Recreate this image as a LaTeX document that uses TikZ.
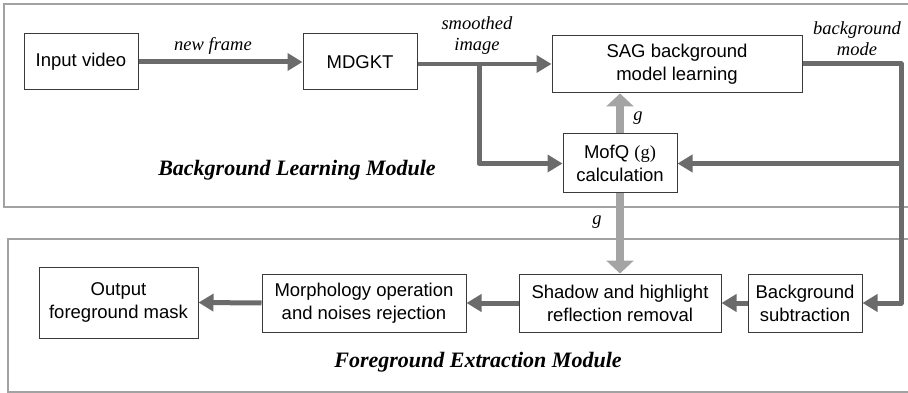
\documentclass[tikz,border=0pt]{standalone}
\usepackage{fontspec}
\setmainfont{Liberation Serif}
\newfontfamily\boxfont{Liberation Sans}
\usetikzlibrary{arrows.meta}
\definecolor{darkflow}{HTML}{6B6B6B}
\definecolor{lightflow}{HTML}{A4A4A4}
\definecolor{framegray}{HTML}{A2A2A2}
\definecolor{boxline}{HTML}{3A3A3A}
\begin{document}
\begin{tikzpicture}[x=1pt,y=-1pt,
  block/.style={draw=boxline,line width=1pt,inner sep=0pt,
    font=\boxfont\fontsize{18.5}{23}\selectfont,align=center},
  flow/.style={draw=darkflow,line width=5pt,line join=round,
    -{Triangle[length=15pt,width=17pt]}},
  gflow/.style={draw=lightflow,line width=8.5pt,
    -{Triangle[length=13pt,width=27pt]}},
  lbl/.style={font=\itshape\fontsize{18.5}{21}\selectfont,align=center,inner sep=0pt},
  modlbl/.style={font=\bfseries\itshape\fontsize{22}{26}\selectfont,inner sep=0pt},
  frame/.style={draw=framegray,line width=2pt}]
\clip (0,0) rectangle (908,393);
\useasboundingbox (0,0) rectangle (908,393);

% module frames
\draw[frame] (4,4) rectangle (920,207);
\draw[frame] (8,239) rectangle (920,392);

% blocks of the background learning module
\node[block,minimum width=114pt,minimum height=56pt] (input) at (81,62) {Input video};
\node[block,minimum width=114pt,minimum height=56pt] (mdgkt) at (360,62) {MDGKT};
\node[block,minimum width=250pt,minimum height=57pt] (sag) at (677,64.5) {SAG background\\model learning};
\node[block,minimum width=114pt,minimum height=59pt] (mofq) at (620,163.5) {MofQ {\rmfamily(g)}\\calculation};

% blocks of the foreground extraction module
\node[block,minimum width=159pt,minimum height=71pt] (output) at (118.5,302.5) {Output\\foreground mask};
\node[block,minimum width=204pt,minimum height=58pt] (morph) at (364,303) {Morphology operation\\and noises rejection};
\node[block,minimum width=202pt,minimum height=58pt] (shadow) at (620,303) {Shadow and highlight\\reflection removal};
\node[block,minimum width=114pt,minimum height=58pt] (bgsub) at (805,303) {Background\\subtraction};

% corner points of the routed connectors
\coordinate (split) at (479,64);
\coordinate (rcorner) at (901,64);
\coordinate (rbranch) at (901,163.5);

% connectors
\draw[flow] (input.east) -- (mdgkt.west);
\draw[flow,line width=3.5pt] (mdgkt.east |- split) -- (sag.west |- split);
\draw[flow] (split) |- (mofq.west);
\draw[gflow] (mofq.north) -- (sag.south -| mofq.north);
\draw[flow] (sag.east |- rcorner) -- (rcorner) |- (bgsub.east);
\draw[flow] (rbranch) -- (mofq.east);
\draw[gflow] (mofq.south) -- (shadow.north);
\draw[flow] (bgsub.west) -- (shadow.east);
\draw[flow] (shadow.west) -- (morph.east);
\draw[flow] (morph.west) -- (output.east);

% connector labels
\node[lbl] (lnew) at (213,46) {new frame};
\node[lbl] (lsmooth) at (477,36) {smoothed\\image};
\node[lbl] (lmode) at (857,39) {background\\mode};
\node[lbl] (lg1) at (638,118) {g};
\node[lbl] (lg2) at (597,222) {g};

% module titles
\node[modlbl] (bgmod) at (297,170) {Background Learning Module};
\node[modlbl] (fgmod) at (478,362) {Foreground Extraction Module};
\end{tikzpicture}
\end{document}
